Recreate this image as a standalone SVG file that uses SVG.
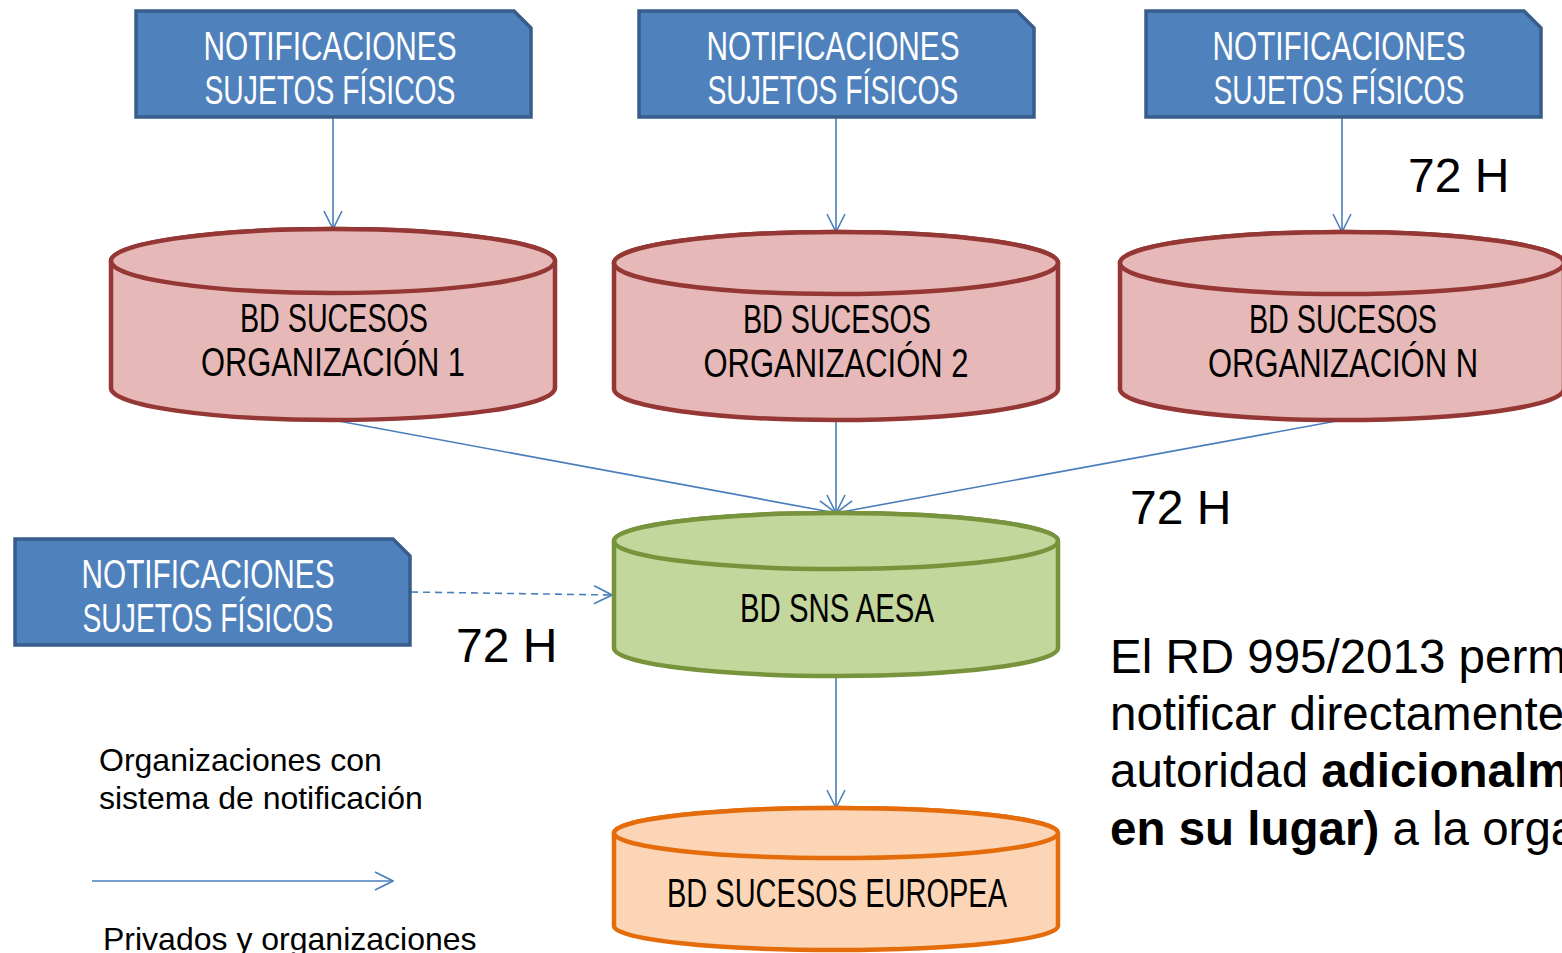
<svg xmlns="http://www.w3.org/2000/svg" width="1562" height="953" viewBox="0 0 1562 953">
<defs>
<style>
.box{fill:#4F81BD;stroke:#385D8A;stroke-width:3.5}
.bt{font-family:"Liberation Sans",Arial,sans-serif;font-size:40px;fill:#fff;text-anchor:middle}
.ct{font-family:"Liberation Sans",Arial,sans-serif;font-size:40px;fill:#000;text-anchor:middle}
.red{fill:#E6B9B8;stroke:#953735;stroke-width:4.5}
.grn{fill:#C3D69B;stroke:#77933C;stroke-width:4.5}
.org{fill:#FBD5B5;stroke:#E46C0A;stroke-width:4.5}
.con{stroke:#4A7EBB;stroke-width:1.6;fill:none}
.lbl{font-family:"Liberation Sans",Arial,sans-serif;fill:#000}
</style>
<marker id="arr" viewBox="0 0 20 20" refX="19" refY="10" markerWidth="20" markerHeight="20" markerUnits="userSpaceOnUse" orient="auto">
<path d="M1,1 L19,10 L1,19" fill="none" stroke="#4A7EBB" stroke-width="1.6"/>
</marker>
</defs>
<rect width="1562" height="953" fill="#fff"/>

<g id="connectors">
<line class="con" x1="333" y1="118" x2="333" y2="229" marker-end="url(#arr)"/>
<line class="con" x1="836" y1="118" x2="836" y2="232" marker-end="url(#arr)"/>
<line class="con" x1="1342" y1="118" x2="1342" y2="232" marker-end="url(#arr)"/>
<line class="con" x1="333" y1="420" x2="836" y2="513" marker-end="url(#arr)"/>
<line class="con" x1="836" y1="420" x2="836" y2="513" marker-end="url(#arr)"/>
<line class="con" x1="1342" y1="420" x2="836" y2="513" marker-end="url(#arr)"/>
<line class="con" x1="411" y1="592" x2="612" y2="595" stroke-dasharray="7,5" marker-end="url(#arr)"/>
<line class="con" x1="836" y1="677" x2="836" y2="808" marker-end="url(#arr)"/>
<line class="con" x1="92" y1="881" x2="393" y2="881" marker-end="url(#arr)"/>
</g>

<g id="notif1">
<path class="box" d="M136,11 H514 L531,28 V117 H136 Z"/>
<text class="bt" x="330" y="60" textLength="253" lengthAdjust="spacingAndGlyphs">NOTIFICACIONES</text>
<text class="bt" x="330" y="104" textLength="251" lengthAdjust="spacingAndGlyphs">SUJETOS FÍSICOS</text>
</g>
<g id="notif2">
<path class="box" d="M639,11 H1017 L1034,28 V117 H639 Z"/>
<text class="bt" x="833" y="60" textLength="253" lengthAdjust="spacingAndGlyphs">NOTIFICACIONES</text>
<text class="bt" x="833" y="104" textLength="251" lengthAdjust="spacingAndGlyphs">SUJETOS FÍSICOS</text>
</g>
<g id="notif3">
<path class="box" d="M1146,11 H1524 L1541,28 V117 H1146 Z"/>
<text class="bt" x="1339" y="60" textLength="253" lengthAdjust="spacingAndGlyphs">NOTIFICACIONES</text>
<text class="bt" x="1339" y="104" textLength="251" lengthAdjust="spacingAndGlyphs">SUJETOS FÍSICOS</text>
</g>
<g id="notif4">
<path class="box" d="M15,539 H393 L410,556 V645 H15 Z"/>
<text class="bt" x="208" y="588" textLength="253" lengthAdjust="spacingAndGlyphs">NOTIFICACIONES</text>
<text class="bt" x="208" y="632" textLength="251" lengthAdjust="spacingAndGlyphs">SUJETOS FÍSICOS</text>
</g>

<g id="org1">
<path class="red" d="M111,261 A222,32 0 0 1 555,261 V388 A222,32 0 0 1 111,388 Z"/>
<ellipse class="red" cx="333" cy="261" rx="222" ry="32"/>
<text class="ct" x="334" y="332" textLength="188" lengthAdjust="spacingAndGlyphs">BD SUCESOS</text>
<text class="ct" x="333" y="376" textLength="264" lengthAdjust="spacingAndGlyphs">ORGANIZACIÓN 1</text>
</g>
<g id="org2">
<path class="red" d="M614,263 A222,31 0 0 1 1058,263 V389 A222,31 0 0 1 614,389 Z"/>
<ellipse class="red" cx="836" cy="263" rx="222" ry="31"/>
<text class="ct" x="837" y="333" textLength="188" lengthAdjust="spacingAndGlyphs">BD SUCESOS</text>
<text class="ct" x="836" y="377" textLength="265" lengthAdjust="spacingAndGlyphs">ORGANIZACIÓN 2</text>
</g>
<g id="orgN">
<path class="red" d="M1120,263 A222,31 0 0 1 1564,263 V389 A222,31 0 0 1 1120,389 Z"/>
<ellipse class="red" cx="1342" cy="263" rx="222" ry="31"/>
<text class="ct" x="1343" y="333" textLength="188" lengthAdjust="spacingAndGlyphs">BD SUCESOS</text>
<text class="ct" x="1343" y="377" textLength="270" lengthAdjust="spacingAndGlyphs">ORGANIZACIÓN N</text>
</g>
<g id="aesa">
<path class="grn" d="M614,541 A222,28 0 0 1 1058,541 V648 A222,28 0 0 1 614,648 Z"/>
<ellipse class="grn" cx="836" cy="541" rx="222" ry="28"/>
<text class="ct" x="837" y="622" textLength="194" lengthAdjust="spacingAndGlyphs">BD SNS AESA</text>
</g>
<g id="europea">
<path class="org" d="M614,833 A222,25 0 0 1 1058,833 V926 A222,24 0 0 1 614,926 Z"/>
<ellipse class="org" cx="836" cy="833" rx="222" ry="25"/>
<text class="ct" x="837" y="907" textLength="340" lengthAdjust="spacingAndGlyphs">BD SUCESOS EUROPEA</text>
</g>

<g id="labels">
<text class="lbl" x="1408" y="192" font-size="48">72 H</text>
<text class="lbl" x="1130" y="524" font-size="48">72 H</text>
<text class="lbl" x="456" y="662" font-size="48">72 H</text>
<text class="lbl" x="99" y="771" font-size="32">Organizaciones con</text>
<text class="lbl" x="99" y="809" font-size="32">sistema de notificación</text>
<text class="lbl" x="103" y="950" font-size="32">Privados y organizaciones</text>
<text class="lbl" x="1110" y="673" font-size="47.5">El RD 995/2013 perm</text>
<text class="lbl" x="1110" y="730" font-size="47.5">notificar directamente</text>
<text class="lbl" x="1110" y="787" font-size="47.5">autoridad <tspan font-weight="bold">adicionalm</tspan></text>
<text class="lbl" x="1110" y="845" font-size="47.5"><tspan font-weight="bold">en su lugar)</tspan> a la orga</text>
</g>
</svg>
